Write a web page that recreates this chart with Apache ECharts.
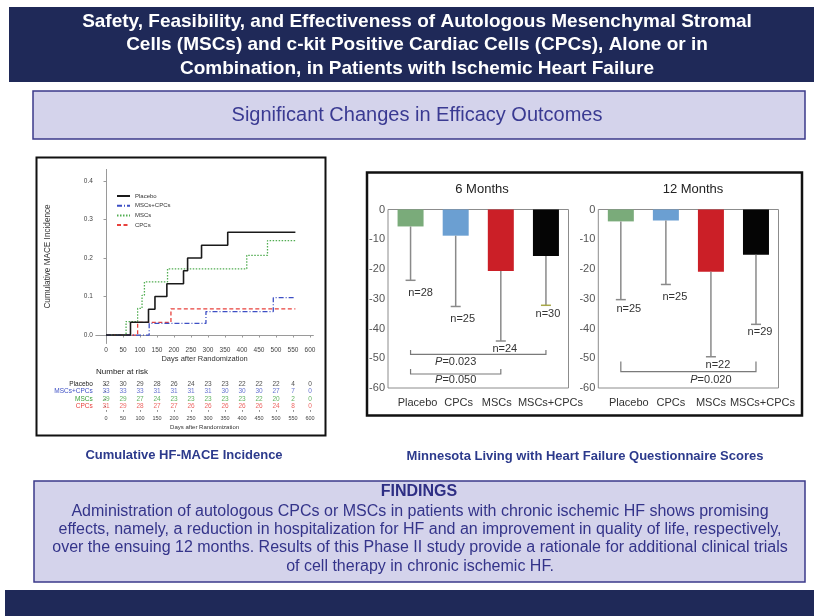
<!DOCTYPE html>
<html><head><meta charset="utf-8">
<script src="https://cdn.jsdelivr.net/npm/echarts@6/dist/echarts.min.js"></script>
<style>html,body{margin:0;padding:0;background:#fff}#c{width:814px;height:616px}</style>
</head><body><div id="c"></div>
<script>
// ---------- text ----------
const titleLines = [
  'Safety, Feasibility, and Effectiveness of Autologous Mesenchymal Stromal',
  'Cells (MSCs) and c-kit Positive Cardiac Cells (CPCs), Alone or in',
  'Combination, in Patients with Ischemic Heart Failure'
];
const subtitle = 'Significant Changes in Efficacy Outcomes';
const captionLeft = 'Cumulative HF-MACE Incidence';
const captionRight = 'Minnesota Living with Heart Failure Questionnaire Scores';
const findingsTitle = 'FINDINGS';
const findingsLines = [
  'Administration of autologous CPCs or MSCs in patients with chronic ischemic HF shows promising',
  'effects, namely, a reduction in hospitalization for HF and an improvement in quality of life, respectively,',
  'over the ensuing 12 months. Results of this Phase II study provide a rationale for additional clinical trials',
  'of cell therapy in chronic ischemic HF.'
];

// ---------- KM data ----------
const kmGroups = ['Placebo', 'MSCs+CPCs', 'MSCs', 'CPCs'];
const kmDaysPlacebo = [0, 72, 125, 144, 179, 228, 240, 281, 358, 557];
const kmValsPlacebo = [0, 0.033, 0.067, 0.100, 0.133, 0.167, 0.200, 0.233, 0.267, 0.267];
const kmDaysCombo = [0, 127, 294, 492, 557];
const kmValsCombo = [0, 0.030, 0.061, 0.097, 0.097];
const kmDaysMSC = [0, 59, 93, 106, 113, 181, 414, 475, 557];
const kmValsMSC = [0, 0.035, 0.069, 0.103, 0.138, 0.172, 0.207, 0.245, 0.245];
const kmDaysCPC = [0, 93, 191, 557];
const kmValsCPC = [0, 0.033, 0.068, 0.068];
const kmYTicks = [0, 0.1, 0.2, 0.3, 0.4];
const dayTicks = [0, 50, 100, 150, 200, 250, 300, 350, 400, 450, 500, 550, 600];

// ---------- number at risk ----------
const riskPlacebo = [32, 30, 29, 28, 26, 24, 23, 23, 22, 22, 22, 4, 0];
const riskCombo   = [33, 33, 33, 31, 31, 31, 31, 30, 30, 30, 27, 7, 0];
const riskMSC     = [29, 29, 27, 24, 23, 23, 23, 23, 23, 22, 20, 2, 0];
const riskCPC     = [31, 29, 28, 27, 27, 26, 26, 26, 26, 26, 24, 8, 0];

// ---------- MLHFQ bars ----------
const barCategories = ['Placebo', 'CPCs', 'MSCs', 'MSCs+CPCs'];
const mean6  = [-5.7, -8.8, -20.7, -15.6];
const err6   = [-23.8, -32.6, -44.2, -32.2];
const n6     = [28, 25, 24, 30];
const mean12 = [-4.0, -3.7, -20.9, -15.2];
const err12  = [-30.3, -25.2, -49.5, -38.6];
const n12    = [25, 25, 22, 29];
// brackets: [fromIdx, toIdx, lineY, tipY, labelX, labelY], p-values separately
const brackets6  = [[0, 3, -48.7, -47.2, 1.1, -51.3], [0, 2, -55.3, -53.6, 1.1, -57.4]];
const pValues6   = ['0.023', '0.050'];
const brackets12 = [[0, 3, -54.5, -51.1, 1.62, -57.3]];
const pValues12  = ['0.020'];

// ---------- styles ----------
const NAVY = '#1f2958';
const LAV = '#d4d3eb';
const LAVB = '#3b3a8a';
const LAVT = '#3a3a92';
const SANS = '"Liberation Sans",Arial,sans-serif';
const kmColors = ['#1a1a1a', '#3d4fc4', '#52ad52', '#e8413c'];
const riskColors = ['#1a1a1a', '#3d4fc4', '#3aa03a', '#e8413c'];
const kmDash = ['solid', [5, 2, 1, 2], [1.5, 1.5], [4, 2.5]];
const barColors = ['#7aab7a', '#6b9fd2', '#cb1f27', '#050505'];
const capColors6 = ['#8a8a8a', '#8a8a8a', '#8a8a8a', '#a8a848'], capColors12 = ['#8a8a8a', '#8a8a8a', '#8a8a8a', '#8a8a8a'];
const catOff6 = [14, 6, -8, 9], catOff12 = [16, 10, 0, 13];        // label x-offset (padding)
const nOffX6 = [10, 7, 4, 2], nOffX12 = [8, 9, 7, 4];
const nOffY6 = [13, 12, 8, 9], nOffY12 = [9, 12, 8, 8];

const zip = (a, b) => a.map((v, i) => [v, b[i]]);
const kmData = [zip(kmDaysPlacebo, kmValsPlacebo), zip(kmDaysCombo, kmValsCombo), zip(kmDaysMSC, kmValsMSC), zip(kmDaysCPC, kmValsCPC)];
const riskData = [riskPlacebo, riskCombo, riskMSC, riskCPC];

function errRenderFor(nArr, offX, offY, caps) {
  return function (params, api) {
    const i = api.value(0);
    const p1 = api.coord([i, api.value(1)]);
    const p2 = api.coord([i, api.value(2)]);
    const st = { stroke: '#8a8a8a', lineWidth: 1.5 };
    const k = params.dataIndex;
    return { type: 'group', children: [
      { type: 'line', shape: { x1: p1[0], y1: p1[1], x2: p2[0], y2: p2[1] }, style: st },
      { type: 'line', shape: { x1: p2[0] - 5, y1: p2[1], x2: p2[0] + 5, y2: p2[1] }, style: { stroke: caps[k], lineWidth: 1.5 } },
      { type: 'text', x: p2[0] + offX[k], y: p2[1] + offY[k], style: { text: 'n=' + nArr[k], fill: '#333', font: '11px ' + SANS, align: 'center', verticalAlign: 'middle' } }
    ]};
  };
}
function bracketRenderFor(pv) {
  return function (params, api) {
    const a = api.coord([api.value(0), api.value(2)]);
    const b = api.coord([api.value(1), api.value(2)]);
    const ta = api.coord([api.value(0), api.value(3)]);
    const lab = api.coord([api.value(4), api.value(5)]);
    const st = { stroke: '#7a7a7a', lineWidth: 1.2, fill: null };
    return { type: 'group', children: [
      { type: 'polyline', shape: { points: [[a[0], ta[1]], [a[0], a[1]], [b[0], b[1]], [b[0], ta[1]]] }, style: st },
      { type: 'text', x: lab[0], y: lab[1], style: { text: '{i|P}{n|=' + pv[params.dataIndex] + '}',
        rich: { i: { fontStyle: 'italic', fontSize: 11, fill: '#333', fontFamily: SANS }, n: { fontSize: 11, fill: '#333', fontFamily: SANS } },
        fill: '#333', font: '11px ' + SANS, align: 'center', verticalAlign: 'middle' } }
    ]};
  };
}

const graphics = [
  { type: 'rect', z: -10, shape: { x: 9, y: 7, width: 805, height: 75 }, style: { fill: NAVY } },
  { type: 'rect', z: -10, shape: { x: 33, y: 91, width: 772, height: 48 }, style: { fill: LAV, stroke: LAVB, lineWidth: 1.5 } },
  { type: 'rect', z: -10, shape: { x: 36.5, y: 157.5, width: 289, height: 278 }, style: { fill: '#fff', stroke: '#111', lineWidth: 2 } },
  { type: 'rect', z: -10, shape: { x: 367, y: 172.5, width: 435, height: 243 }, style: { fill: '#fff', stroke: '#111', lineWidth: 2.5 } },
  { type: 'rect', z: -10, shape: { x: 34, y: 481, width: 771, height: 101 }, style: { fill: LAV, stroke: LAVB, lineWidth: 1.5 } },
  { type: 'rect', z: -10, shape: { x: 5, y: 590, width: 809, height: 26 }, style: { fill: NAVY } },
  { type: 'text', x: 482, y: 189, style: { text: '6 Months', font: '13px ' + SANS, fill: '#222', align: 'center', verticalAlign: 'middle' } },
  { type: 'text', x: 693, y: 189, style: { text: '12 Months', font: '13px ' + SANS, fill: '#222', align: 'center', verticalAlign: 'middle' } },
  { type: 'text', x: 96, y: 372, style: { text: 'Number at risk', font: '8px ' + SANS, fill: '#222', align: 'left', verticalAlign: 'middle' } },
  { type: 'text', x: 417, y: 115, style: { text: subtitle, font: '20px ' + SANS, fill: LAVT, align: 'center', verticalAlign: 'middle' } },
  { type: 'text', x: 184, y: 455, style: { text: captionLeft, font: 'bold 13px ' + SANS, fill: '#2c3a8c', align: 'center', verticalAlign: 'middle' } },
  { type: 'text', x: 585, y: 456, style: { text: captionRight, font: 'bold 13px ' + SANS, fill: '#2c3a8c', align: 'center', verticalAlign: 'middle' } },
  { type: 'text', x: 419, y: 491.5, style: { text: findingsTitle, font: 'bold 16px ' + SANS, fill: '#2e2e84', align: 'center', verticalAlign: 'middle' } }
];
titleLines.forEach((t, i) => graphics.push({ type: 'text', x: 417, y: 21.5 + i * 23.4, style: { text: t, font: 'bold 19px ' + SANS, fill: '#fff', align: 'center', verticalAlign: 'middle' } }));
findingsLines.forEach((t, i) => graphics.push({ type: 'text', x: 420, y: 511.5 + i * 18.2, style: { text: t, font: '16px ' + SANS, fill: '#34348a', align: 'center', verticalAlign: 'middle' } }));

const kmAxisCommon = { lineStyle: { color: '#9a9a9a', width: 1 } };
const series = [];
kmGroups.forEach((g, k) => series.push({
  name: g, type: 'line', xAxisIndex: 0, yAxisIndex: 0, step: 'end', symbol: 'none', showSymbol: false,
  data: kmData[k], lineStyle: { color: kmColors[k], width: k === 0 ? 1.6 : 1.3, type: kmDash[k] }, itemStyle: { color: kmColors[k] }, z: 6 - k
}));
kmGroups.forEach((g, k) => series.push({
  type: 'scatter', xAxisIndex: 1, yAxisIndex: 1, symbolSize: 0, silent: true,
  data: dayTicks.map((d, j) => [d, g, riskData[k][j]]),
  label: { show: true, position: 'inside', formatter: p => p.value[2], color: riskColors[k], fontSize: 6.5, fontFamily: SANS }
}));
[[mean6, err6, n6, brackets6, pValues6, 2, nOffX6, nOffY6, capColors6], [mean12, err12, n12, brackets12, pValues12, 3, nOffX12, nOffY12, capColors12]].forEach(([m, e, n, br, pv, gi, ox, oy, cc]) => {
  series.push({ type: 'bar', xAxisIndex: gi, yAxisIndex: gi, barWidth: 26, data: m.map((v, i) => ({ value: v, itemStyle: { color: barColors[i] } })) });
  series.push({ type: 'custom', xAxisIndex: gi, yAxisIndex: gi, renderItem: errRenderFor(n, ox, oy, cc), data: m.map((v, i) => [i, v, e[i]]), z: 5 });
  series.push({ type: 'custom', xAxisIndex: gi, yAxisIndex: gi, renderItem: bracketRenderFor(pv), data: br, z: 5 });
});

const barX = (gi, off) => ({ gridIndex: gi, type: 'category',
  data: barCategories.map((c, i) => ({ value: c, textStyle: { padding: off[i] >= 0 ? [0, 0, 0, off[i]] : [0, -off[i], 0, 0] } })),
  axisLine: { show: false }, axisTick: { show: false },
  axisLabel: { color: '#333', fontSize: 11, fontFamily: SANS, margin: 9, interval: 0 } });
const barY = gi => ({ gridIndex: gi, type: 'value', min: -60, max: 0, interval: 10, axisLine: { show: false }, axisTick: { show: false },
  splitLine: { show: false }, axisLabel: { color: '#555', fontSize: 11, fontFamily: SANS, margin: 3 } });

const option = {
  animation: false,
  backgroundColor: '#fff',
  textStyle: { fontFamily: SANS },
  graphic: graphics,
  legend: { data: kmGroups, orient: 'vertical', left: 116, top: 193, itemWidth: 13, itemHeight: 6, itemGap: 3.7, padding: 0,
    itemStyle: { opacity: 0 }, textStyle: { fontSize: 6, color: '#333' } },
  grid: [
    { left: 95.8, top: 169.4, width: 217.6, height: 174.1 },
    { left: 95.8, top: 380.2, width: 217.6, height: 30 },
    { left: 388, top: 209.5, width: 180.5, height: 178.5, show: true, borderColor: '#8c8c8c', borderWidth: 1, backgroundColor: 'transparent' },
    { left: 598.3, top: 209.5, width: 180.2, height: 178.5, show: true, borderColor: '#8c8c8c', borderWidth: 1, backgroundColor: 'transparent' }
  ],
  xAxis: [
    { gridIndex: 0, type: 'value', min: -30, max: 610, axisLine: { show: true, ...kmAxisCommon }, splitLine: { show: false },
      axisTick: { show: true, length: 2.5, customValues: dayTicks, ...kmAxisCommon }, axisLabel: { customValues: dayTicks, fontSize: 6.5, color: '#444', margin: 3 },
      name: 'Days after Randomization', nameLocation: 'middle', nameGap: 11, nameTextStyle: { fontSize: 7.5, color: '#333' } },
    { gridIndex: 1, type: 'value', min: -30, max: 610, axisLine: { show: false }, splitLine: { show: false },
      axisTick: { show: true, length: 1.5, customValues: dayTicks, lineStyle: { color: '#777' } }, axisLabel: { customValues: dayTicks, fontSize: 5.5, color: '#444', margin: 5.5 },
      name: 'Days after Randomization', nameLocation: 'middle', nameGap: 14, nameTextStyle: { fontSize: 6, color: '#333' } },
    barX(2, catOff6), barX(3, catOff12)
  ],
  yAxis: [
    { gridIndex: 0, type: 'value', min: -0.022, max: 0.43, axisLine: { show: true, ...kmAxisCommon }, splitLine: { show: false },
      axisTick: { show: true, length: 2.5, customValues: kmYTicks, ...kmAxisCommon }, axisLabel: { customValues: kmYTicks, formatter: v => v.toFixed(1), fontSize: 6.5, color: '#444', margin: 3 },
      name: 'Cumulative MACE Incidence', nameLocation: 'middle', nameGap: 44, nameRotate: 90, nameTextStyle: { fontSize: 8.2, color: '#333' } },
    { gridIndex: 1, type: 'category', data: kmGroups, inverse: true, axisLine: { show: false },
      axisTick: { show: true, length: 1.5, alignWithLabel: true, lineStyle: { color: '#777' } },
      axisLabel: { interval: 0, fontSize: 6.5, margin: 3, formatter: (v, i) => '{r' + i + '|' + v + '}',
        rich: { r0: { color: riskColors[0], fontSize: 6.5 }, r1: { color: riskColors[1], fontSize: 6.5 }, r2: { color: riskColors[2], fontSize: 6.5 }, r3: { color: riskColors[3], fontSize: 6.5 } } } },
    barY(2), barY(3)
  ],
  series: series
};
const chart = echarts.init(document.getElementById('c'));
chart.setOption(option);
</script></body></html>
